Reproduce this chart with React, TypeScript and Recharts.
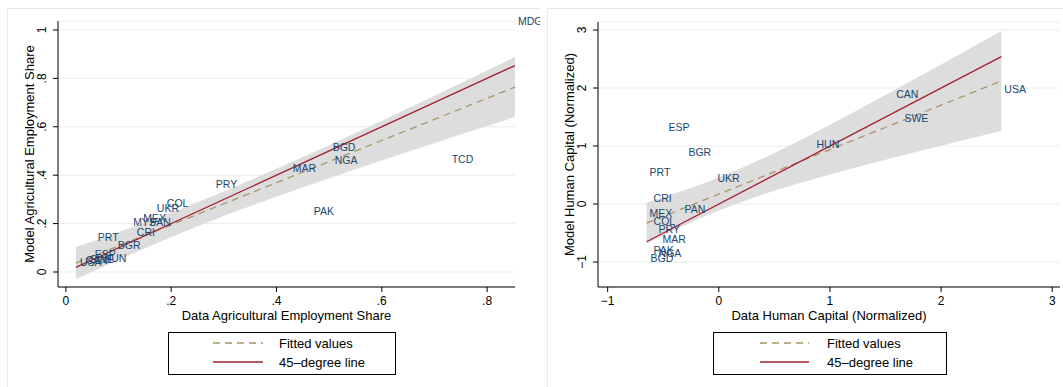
import { ComposedChart, XAxis, YAxis, CartesianGrid, Area, Line, Scatter, Label } from 'recharts';

// left panel: agricultural employment share
const agriCountries = ['MDG', 'TCD', 'BGD', 'NGA', 'MAR', 'PAK', 'PRY', 'COL', 'UKR', 'MYS', 'MEX', 'PAN', 'CRI', 'PRT', 'BGR', 'ESP', 'HUN', 'SWE', 'CAN', 'USA'];
const agriData = [0.853, 0.727, 0.501, 0.505, 0.425, 0.465, 0.279, 0.186, 0.167, 0.122, 0.141, 0.154, 0.129, 0.055, 0.093, 0.049, 0.066, 0.04, 0.032, 0.021];
const agriModel = [1.037, 0.467, 0.517, 0.463, 0.43, 0.252, 0.364, 0.285, 0.264, 0.207, 0.223, 0.207, 0.165, 0.145, 0.112, 0.074, 0.058, 0.054, 0.05, 0.041];
const agriFitX = [0.019, 0.853];
const agriFitY = [0.037, 0.764];
const agriBandX = [0.019, 0.1, 0.25, 0.45, 0.65, 0.853];
const agriBandLo = [-0.029, 0.05, 0.189, 0.35, 0.497, 0.64];
const agriBandHi = [0.103, 0.164, 0.288, 0.475, 0.677, 0.888];
const agriXTicks = [0, 0.2, 0.4, 0.6, 0.8];
const agriYTicks = [0, 0.2, 0.4, 0.6, 0.8, 1];

// right panel: human capital
const hcCountries = ['USA', 'CAN', 'SWE', 'HUN', 'ESP', 'BGR', 'PRT', 'UKR', 'CRI', 'MEX', 'PAN', 'COL', 'PRY', 'MAR', 'PAK', 'NGA', 'BGD'];
const hcData = [2.542, 1.57, 1.643, 0.852, -0.479, -0.3, -0.65, -0.039, -0.614, -0.65, -0.335, -0.614, -0.569, -0.533, -0.614, -0.569, -0.641];
const hcModel = [1.983, 1.897, 1.483, 1.034, 1.328, 0.897, 0.552, 0.448, 0.103, -0.155, -0.086, -0.293, -0.431, -0.603, -0.793, -0.845, -0.931];
const hcFitX = [-0.65, 2.542];
const hcFitY = [-0.328, 2.121];
const hcBandX = [-0.65, 0, 0.5, 1, 1.5, 2, 2.542];
const hcBandLo = [-0.681, -0.114, 0.228, 0.509, 0.763, 1.004, 1.259];
const hcBandHi = [0.025, 0.456, 0.881, 1.367, 1.88, 2.406, 2.983];
const hcTicks = [-1, 0, 1, 2, 3];

const FONT = '"Liberation Sans", Arial, Helvetica, sans-serif';
const NAVY = '#1a476f';
const FIT = '#a8966a';
const RED = '#a3202f';
const BAND = '#dddddd';
const GRID = '#e6eef0';
const BORDER = '#e3ebee';

const fmtShare = (v: number) => (v === 0 || v === 1 ? String(v) : String(v).replace(/^0/, ''));
const fmtHc = (v: number) => (v < 0 ? `\u2212${Math.abs(v)}` : String(v));

interface PanelProps {
  left: number;
  width: number;
  countries: string[];
  xs: number[];
  ys: number[];
  fitX: number[];
  fitY: number[];
  bandX: number[];
  bandLo: number[];
  bandHi: number[];
  xDomain: [number, number];
  yDomain: [number, number];
  xTicks: number[];
  yTicks: number[];
  fmt: (v: number) => string;
  xTitle: string;
  yTitle: string;
  marginTop: number;
  marginRight: number;
  legendLeft: number;
  legendWidth: number;
  sampleX: [number, number];
  textX: number;
}

function Panel(p: PanelProps) {
  const points = p.countries.map((c, i) => ({ name: c, x: p.xs[i], y: p.ys[i] }));
  const fit = p.fitX.map((x, i) => ({ x, y: p.fitY[i] }));
  const diag = p.fitX.map((x) => ({ x, y: x }));
  const band = p.bandX.map((x, i) => ({ x, band: [p.bandLo[i], p.bandHi[i]] }));

  const XTick = (t: any) => (
    <text x={t.x} y={t.y} dy={11} textAnchor="middle" fontSize={12} fontFamily={FONT} fill="#000">
      {p.fmt(t.payload.value)}
    </text>
  );
  const YTick = (t: any) => (
    <text
      x={t.x - 5}
      y={t.y}
      transform={`rotate(-90, ${t.x - 5}, ${t.y})`}
      textAnchor="middle"
      fontSize={12}
      fontFamily={FONT}
      fill="#000"
    >
      {p.fmt(t.payload.value)}
    </text>
  );

  return (
    <div style={{ position: 'absolute', left: p.left, top: 8, width: p.width, height: 379, overflow: 'hidden' }}>
      <div
        style={{
          position: 'absolute',
          left: 0,
          top: 0,
          width: p.width + 10,
          height: 390,
          border: `1px solid ${BORDER}`,
          boxSizing: 'border-box',
        }}
      />
      <div style={{ position: 'absolute', left: 0, top: 0 }}>
        <ComposedChart
          width={p.width}
          height={330}
          margin={{ top: p.marginTop, right: p.marginRight, bottom: 21, left: 0 }}
        >
          <CartesianGrid vertical={false} stroke={GRID} strokeWidth={1} />
          <XAxis
            type="number"
            dataKey="x"
            domain={p.xDomain}
            ticks={p.xTicks}
            height={30}
            tickSize={5}
            tickMargin={2}
            axisLine={{ stroke: '#000' }}
            tickLine={{ stroke: '#000' }}
            tick={XTick}
          >
            <Label
              content={(lp: any) => {
                const vb = lp.viewBox || {};
                return (
                  <text x={vb.x + vb.width / 2} y={vb.y + 33} textAnchor="middle" fontSize={13} fontFamily={FONT} fill="#000">
                    {p.xTitle}
                  </text>
                );
              }}
            />
          </XAxis>
          <YAxis
            type="number"
            dataKey="y"
            domain={p.yDomain}
            ticks={p.yTicks}
            width={51}
            tickSize={5}
            tickMargin={2}
            axisLine={{ stroke: '#000' }}
            tickLine={{ stroke: '#000' }}
            tick={YTick}
          >
            <Label
              content={(lp: any) => {
                const vb = lp.viewBox || {};
                const cx = vb.x + 27;
                const cy = vb.y + vb.height / 2;
                return (
                  <text
                    x={cx}
                    y={cy}
                    transform={`rotate(-90, ${cx}, ${cy})`}
                    textAnchor="middle"
                    fontSize={13}
                    fontFamily={FONT}
                    fill="#000"
                  >
                    {p.yTitle}
                  </text>
                );
              }}
            />
          </YAxis>
          <Area
            data={band}
            dataKey="band"
            type="monotone"
            stroke="none"
            fill={BAND}
            fillOpacity={1}
            isAnimationActive={false}
          />
          <Line
            data={fit}
            dataKey="y"
            type="linear"
            stroke={FIT}
            strokeWidth={1.3}
            strokeDasharray="7 5"
            dot={false}
            isAnimationActive={false}
          />
          <Line
            data={diag}
            dataKey="y"
            type="linear"
            stroke={RED}
            strokeWidth={1.3}
            dot={false}
            isAnimationActive={false}
          />
          <Scatter
            data={points}
            dataKey="y"
            isAnimationActive={false}
            shape={(s: any) => (
              <text
                x={s.cx + 3}
                y={s.cy}
                dominantBaseline="central"
                fontSize={10.5}
                fontFamily={FONT}
                fill={NAVY}
              >
                {s.payload.name}
              </text>
            )}
          />
        </ComposedChart>
      </div>
      <svg
        width={p.legendWidth}
        height={43}
        style={{ position: 'absolute', left: p.legendLeft, top: 324 }}
      >
        <rect x={0.5} y={0.5} width={p.legendWidth - 1} height={42} fill="#fff" stroke="#000" />
        <line x1={p.sampleX[0]} x2={p.sampleX[1]} y1={11} y2={11} stroke={FIT} strokeWidth={1.3} strokeDasharray="7 5" />
        <text x={p.textX} y={11} dominantBaseline="central" fontSize={13} fontFamily={FONT} fill="#000">
          Fitted values
        </text>
        <line x1={p.sampleX[0]} x2={p.sampleX[1]} y1={30} y2={30} stroke={RED} strokeWidth={1.3} />
        <text x={p.textX} y={30} dominantBaseline="central" fontSize={13} fontFamily={FONT} fill="#000">
          45{'\u2013'}degree line
        </text>
      </svg>
    </div>
  );
}

export default function App() {
  return (
    <div style={{ position: 'absolute', left: 0, top: 0, width: 1063, height: 387, background: '#fff', overflow: 'hidden' }}>
      <Panel
        left={7}
        width={533}
        countries={agriCountries}
        xs={agriData}
        ys={agriModel}
        fitX={agriFitX}
        fitY={agriFitY}
        bandX={agriBandX}
        bandLo={agriBandLo}
        bandHi={agriBandHi}
        xDomain={[-0.015, 0.853]}
        yDomain={[-0.062, 1.037]}
        xTicks={agriXTicks}
        yTicks={agriYTicks}
        fmt={fmtShare}
        xTitle="Data Agricultural Employment Share"
        yTitle="Model Agricultural Employment Share"
        marginTop={13}
        marginRight={25}
        legendLeft={161}
        legendWidth={228}
        sampleX={[45, 95]}
        textX={111}
      />
      <Panel
        left={547}
        width={516}
        countries={hcCountries}
        xs={hcData}
        ys={hcModel}
        fitX={hcFitX}
        fitY={hcFitY}
        bandX={hcBandX}
        bandLo={hcBandLo}
        bandHi={hcBandHi}
        xDomain={[-1.087, 3.07]}
        yDomain={[-1.431, 3.138]}
        xTicks={hcTicks}
        yTicks={hcTicks}
        fmt={fmtHc}
        xTitle="Data Human Capital (Normalized)"
        yTitle="Model Human Capital (Normalized)"
        marginTop={14}
        marginRight={3}
        legendLeft={166}
        legendWidth={234}
        sampleX={[47, 96]}
        textX={114}
      />
    </div>
  );
}
